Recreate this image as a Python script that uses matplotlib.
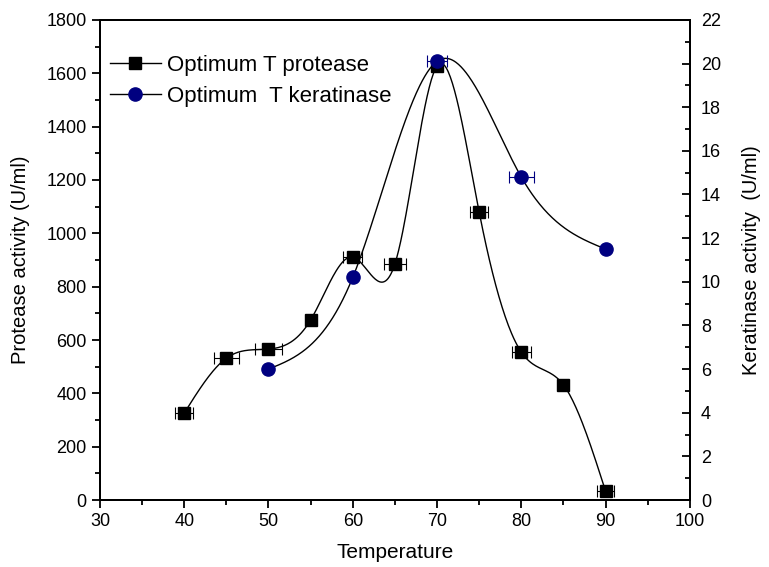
import numpy as np
import matplotlib.pyplot as plt
from matplotlib.ticker import MultipleLocator
from matplotlib.lines import Line2D

plt.rcParams['font.family'] = ['Liberation Sans', 'DejaVu Sans']

# protease (left axis)
temp_p = [40, 45, 50, 55, 60, 65, 70, 75, 80, 85, 90]
protease = [326, 532, 566, 675, 911, 885, 1627, 1080, 555, 432, 34]
protease_xerr = [1.1, 1.5, 1.6, 0, 1.1, 1.3, 0, 1.1, 1.1, 0, 1.0]

# keratinase (right axis)
temp_k = [50, 60, 70, 80, 90]
keratinase = [6.0, 10.2, 20.1, 14.8, 11.5]
keratinase_xerr = [0, 0, 1.15, 1.5, 0]


def spline(x, y, n=400):
    # natural cubic spline through the points
    x = np.asarray(x, float)
    y = np.asarray(y, float)
    k = len(x)
    h = np.diff(x)
    A = np.zeros((k, k))
    b = np.zeros(k)
    A[0, 0] = A[-1, -1] = 1
    for i in range(1, k - 1):
        A[i, i - 1] = h[i - 1]
        A[i, i] = 2 * (h[i - 1] + h[i])
        A[i, i + 1] = h[i]
        b[i] = 6 * ((y[i + 1] - y[i]) / h[i] - (y[i] - y[i - 1]) / h[i - 1])
    M = np.linalg.solve(A, b)
    xs = np.linspace(x[0], x[-1], n)
    idx = np.clip(np.searchsorted(x, xs) - 1, 0, k - 2)
    x0, x1 = x[idx], x[idx + 1]
    hh = x1 - x0
    t0, t1 = x1 - xs, xs - x0
    ys = (M[idx] * t0 ** 3 + M[idx + 1] * t1 ** 3) / (6 * hh) \
        + (y[idx] / hh - M[idx] * hh / 6) * t0 \
        + (y[idx + 1] / hh - M[idx + 1] * hh / 6) * t1
    return xs, ys


fig = plt.figure(figsize=(7.69, 5.67), dpi=100)
ax = fig.add_axes([0.130, 0.118, 0.767, 0.847])
ax2 = ax.twinx()

xs, ys = spline(temp_p, protease)
ax.plot(xs, ys, color='black', lw=1.0)
ax.errorbar(temp_p, protease, xerr=protease_xerr, fmt='s', color='black',
            ms=9, ecolor='black', elinewidth=0.8, capsize=4, capthick=0.8)

xs, ys = spline(temp_k, keratinase)
ax2.plot(xs, ys, color='black', lw=1.0)
ax2.errorbar(temp_k, keratinase, xerr=keratinase_xerr, fmt='o', color='#000080',
             ms=9.5, ecolor='#000080', elinewidth=0.8, capsize=4, capthick=0.8)

ax.set_xlim(30, 100)
ax.set_ylim(0, 1800)
ax2.set_ylim(0, 22)
ax.xaxis.set_major_locator(MultipleLocator(10))
ax.xaxis.set_minor_locator(MultipleLocator(5))
ax.yaxis.set_major_locator(MultipleLocator(200))
ax.yaxis.set_minor_locator(MultipleLocator(100))
ax2.yaxis.set_major_locator(MultipleLocator(2))
ax2.yaxis.set_minor_locator(MultipleLocator(1))

ax.tick_params(which='major', length=6, width=1.3, labelsize=13)
ax.tick_params(which='minor', length=3.5, width=1.3)
ax2.tick_params(which='major', direction='in', length=6, width=1.3, labelsize=13, pad=8)
ax2.tick_params(which='minor', direction='in', length=3.5, width=1.3)
for a in (ax, ax2):
    for s in a.spines.values():
        s.set_linewidth(1.4)

ax.set_xlabel('Temperature', fontsize=15, labelpad=9)
ax.set_ylabel('Protease activity (U/ml)', fontsize=14.5, labelpad=12)
ax2.set_ylabel('Keratinase activity  (U/ml)', fontsize=14.5, labelpad=15)

handles = [
    Line2D([], [], color='black', lw=1.0, marker='s', ms=9, mfc='black', mec='black'),
    Line2D([], [], color='black', lw=1.0, marker='o', ms=9.5, mfc='#000080', mec='#000080'),
]
ax.legend(handles, ['Optimum T protease', 'Optimum  T keratinase'], loc='upper left',
          bbox_to_anchor=(-0.01, 0.96), frameon=False, fontsize=16,
          handlelength=2.3, handletextpad=0.3, labelspacing=0.45, borderaxespad=0.3)

fig.savefig('out.png', dpi=100)
